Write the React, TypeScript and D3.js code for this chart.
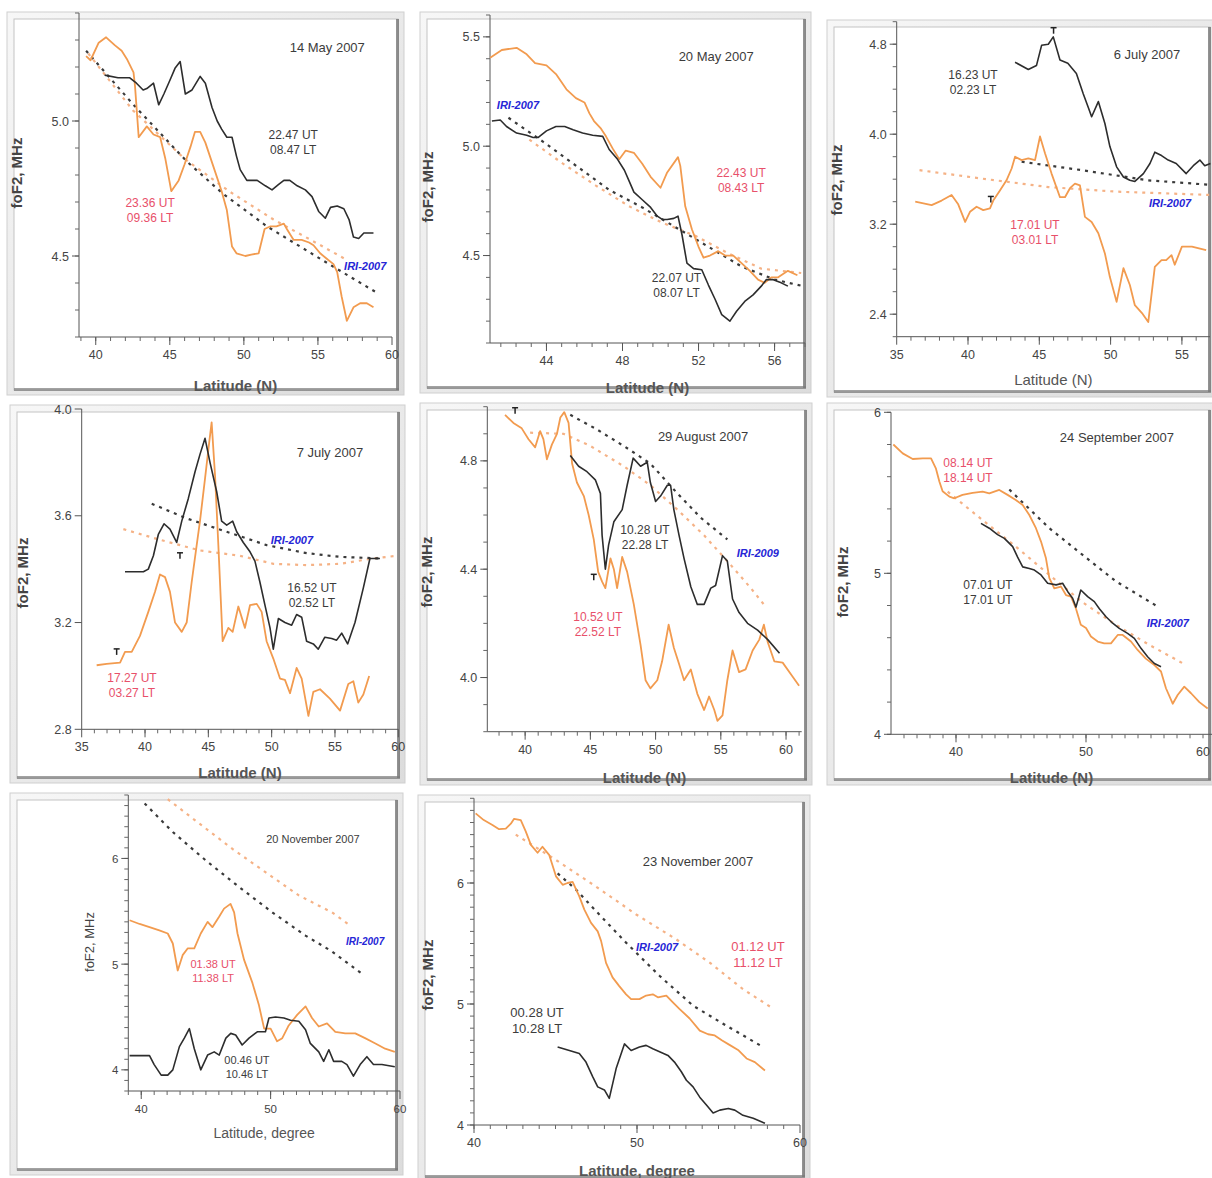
import React from "react";
import * as d3 from "d3";

type Pt = [number, number];

// ---- 14 May 2007 ----
const may14Orange: Pt[] = [[39.35,5.24],[39.65,5.225],[40.2,5.29],[40.7,5.31],[41.3,5.28],[41.75,5.26],[42.1,5.23],[42.55,5.18],[42.65,5.13],[42.9,4.94],[43.45,4.98],[43.9,4.95],[44.35,4.94],[44.7,4.86],[45.1,4.74],[45.6,4.78],[46.0,4.84],[46.4,4.905],[46.7,4.96],[47.05,4.96],[47.4,4.92],[47.95,4.83],[48.5,4.74],[48.85,4.67],[49.2,4.535],[49.5,4.51],[50.1,4.5],[50.5,4.505],[51.0,4.51],[51.4,4.6],[51.8,4.61],[52.2,4.61],[52.7,4.62],[52.9,4.6],[53.35,4.56],[53.9,4.56],[54.4,4.55],[54.7,4.54],[55.15,4.51],[55.7,4.485],[56.05,4.47],[56.3,4.44],[56.6,4.35],[56.95,4.26],[57.4,4.31],[57.85,4.325],[58.3,4.325],[58.75,4.31]];
const may14Black: Pt[] = [[40.6,5.17],[41.5,5.16],[42.3,5.16],[42.75,5.14],[43.2,5.115],[43.45,5.12],[43.9,5.14],[44.25,5.06],[44.6,5.1],[45.0,5.15],[45.35,5.195],[45.7,5.22],[46.05,5.1],[46.5,5.115],[47.05,5.165],[47.4,5.14],[47.85,5.05],[48.2,5.0],[48.5,4.97],[48.85,4.94],[49.2,4.94],[49.5,4.87],[49.75,4.82],[50.2,4.78],[50.9,4.78],[51.45,4.76],[51.9,4.745],[52.35,4.765],[52.7,4.78],[53.1,4.78],[53.6,4.76],[54.15,4.745],[54.6,4.72],[55.05,4.665],[55.5,4.64],[55.85,4.68],[56.3,4.685],[56.75,4.675],[57.1,4.635],[57.4,4.57],[57.75,4.565],[58.1,4.585],[58.75,4.585]];
const may14IriBlack: Pt[] = [[39.35,5.26],[42.55,5.06],[46.15,4.85],[48.6,4.73],[51.55,4.61],[53.8,4.535],[56.05,4.46],[59.1,4.36]];
const may14IriOrange: Pt[] = [[39.5,5.25],[42.5,5.04],[46.0,4.86],[49.0,4.74],[52.0,4.635],[55.0,4.545],[56.8,4.49]];
const may14XTicks = [40, 45, 50, 55, 60];
const may14YTicks = [4.5, 5.0];

// ---- 20 May 2007 ----
const may20Orange: Pt[] = [[41.04,5.405],[41.65,5.44],[42.43,5.45],[42.96,5.42],[43.4,5.38],[44.0,5.37],[44.5,5.33],[45.05,5.26],[45.55,5.22],[46.0,5.2],[46.26,5.15],[46.5,5.115],[46.87,5.08],[47.13,5.045],[47.48,4.99],[47.83,4.94],[48.17,4.98],[48.6,4.97],[49.04,4.92],[49.48,4.86],[50.0,4.81],[50.35,4.88],[50.92,4.95],[51.04,4.91],[51.3,4.725],[51.65,4.62],[52.0,4.54],[52.26,4.49],[52.6,4.5],[53.04,4.52],[53.4,4.5],[53.83,4.5],[54.26,4.465],[54.7,4.43],[55.13,4.39],[55.48,4.375],[55.83,4.4],[56.17,4.4],[56.7,4.43],[57.2,4.41]];
const may20Black: Pt[] = [[41.13,5.115],[41.57,5.12],[41.9,5.09],[42.43,5.06],[42.96,5.05],[43.3,5.04],[43.57,5.04],[44.0,5.07],[44.5,5.09],[44.96,5.09],[45.4,5.075],[45.9,5.06],[46.43,5.05],[46.96,5.045],[47.3,4.985],[47.74,4.94],[48.1,4.89],[48.35,4.84],[48.6,4.79],[49.04,4.755],[49.48,4.72],[49.83,4.68],[50.09,4.665],[50.35,4.665],[50.7,4.67],[50.92,4.68],[51.13,4.595],[51.39,4.465],[51.74,4.44],[52.17,4.435],[52.52,4.365],[52.87,4.3],[53.22,4.23],[53.65,4.2],[54.0,4.245],[54.43,4.29],[54.87,4.32],[55.3,4.36],[55.57,4.39],[55.9,4.39],[56.35,4.375],[56.7,4.36]];
const may20IriBlack: Pt[] = [[42.0,5.13],[43.83,5.02],[45.57,4.91],[47.3,4.8],[49.04,4.72],[50.78,4.63],[52.52,4.54],[54.26,4.45],[56.0,4.39],[57.5,4.36]];
const may20IriOrange: Pt[] = [[43.1,5.03],[44.87,4.92],[46.6,4.82],[48.35,4.725],[50.09,4.65],[51.83,4.59],[53.57,4.51],[55.3,4.44],[57.4,4.42]];
const may20XTicks = [44, 48, 52, 56];
const may20YTicks = [4.5, 5.0, 5.5];

// ---- 6 July 2007 ----
const jul6Black: Pt[] = [[43.3,4.64],[44.23,4.575],[44.8,4.61],[45.16,4.79],[45.63,4.8],[45.98,4.865],[46.45,4.66],[47.0,4.63],[47.6,4.54],[48.08,4.36],[48.43,4.24],[48.67,4.155],[49.14,4.29],[49.6,4.095],[49.95,3.89],[50.42,3.71],[50.9,3.62],[51.35,3.59],[51.7,3.58],[52.3,3.65],[52.76,3.74],[53.1,3.84],[53.57,3.81],[54.04,3.77],[54.6,3.74],[55.3,3.65],[55.8,3.72],[56.26,3.77],[56.6,3.72],[57.0,3.74]];
const jul6Orange: Pt[] = [[36.3,3.4],[37.45,3.37],[38.15,3.41],[38.85,3.46],[39.3,3.38],[39.8,3.22],[40.14,3.31],[40.6,3.355],[41.07,3.325],[41.54,3.34],[41.77,3.41],[42.24,3.5],[42.7,3.59],[43.06,3.695],[43.3,3.8],[43.76,3.77],[44.23,3.785],[44.7,3.77],[45.05,3.98],[45.4,3.83],[45.86,3.65],[46.45,3.44],[46.8,3.44],[47.15,3.52],[47.5,3.56],[47.85,3.545],[48.2,3.265],[48.67,3.22],[49.14,3.12],[49.6,2.94],[49.95,2.73],[50.42,2.51],[50.9,2.81],[51.35,2.66],[51.7,2.48],[52.2,2.41],[52.64,2.33],[53.1,2.82],[53.57,2.88],[53.9,2.88],[54.27,2.925],[54.5,2.84],[55.0,3.0],[55.7,3.0],[56.7,2.97]];
const jul6IriBlack: Pt[] = [[43.76,3.755],[48.0,3.68],[52.64,3.59],[57.0,3.55]];
const jul6IriOrange: Pt[] = [[36.6,3.68],[41.0,3.605],[45.63,3.53],[50.3,3.49],[57.0,3.46]];
const jul6Markers: Pt[] = [[46.0,4.92],[41.6,3.42]];
const jul6XTicks = [35, 40, 45, 50, 55];
const jul6YTicks = [2.4, 3.2, 4.0, 4.8];

// ---- 7 July 2007 ----
const jul7Black: Pt[] = [[38.42,3.39],[39.08,3.39],[39.87,3.39],[40.26,3.4],[40.66,3.45],[41.05,3.53],[41.5,3.57],[41.97,3.55],[42.5,3.5],[42.9,3.58],[43.42,3.665],[43.95,3.765],[44.34,3.83],[44.74,3.89],[45.13,3.8],[45.66,3.69],[46.05,3.58],[46.45,3.565],[46.92,3.58],[47.24,3.54],[47.76,3.5],[48.29,3.465],[48.68,3.43],[49.08,3.35],[49.47,3.265],[49.87,3.18],[50.13,3.1],[50.53,3.215],[51.05,3.2],[51.58,3.19],[51.97,3.23],[52.37,3.22],[52.76,3.13],[53.29,3.12],[53.68,3.1],[54.2,3.145],[54.74,3.14],[55.13,3.134],[55.53,3.16],[56.0,3.12],[56.58,3.2],[57.24,3.33],[57.76,3.44],[58.55,3.44]];
const jul7Orange: Pt[] = [[36.18,3.04],[36.97,3.045],[38.03,3.05],[38.42,3.09],[38.95,3.09],[39.6,3.15],[40.26,3.24],[40.79,3.315],[41.18,3.38],[41.58,3.37],[41.97,3.315],[42.37,3.2],[42.9,3.165],[43.29,3.2],[43.68,3.35],[44.08,3.49],[44.34,3.58],[44.74,3.74],[45.08,3.88],[45.26,3.95],[45.53,3.75],[45.79,3.49],[46.13,3.13],[46.58,3.18],[46.92,3.165],[47.37,3.26],[47.89,3.18],[48.29,3.265],[48.82,3.27],[49.21,3.24],[49.6,3.13],[50.13,3.065],[50.66,2.99],[51.05,2.985],[51.45,2.935],[51.97,3.03],[52.37,2.99],[52.9,2.85],[53.29,2.94],[53.82,2.95],[54.6,2.915],[55.4,2.87],[56.05,2.97],[56.45,2.98],[56.84,2.9],[57.24,2.93],[57.7,3.0]];
const jul7IriBlack: Pt[] = [[40.53,3.645],[43.29,3.59],[46.45,3.54],[49.6,3.49],[52.76,3.46],[55.4,3.446],[58.55,3.44]];
const jul7IriOrange: Pt[] = [[38.29,3.55],[41.18,3.51],[44.34,3.47],[47.5,3.45],[50.13,3.42],[52.76,3.415],[55.4,3.42],[58.0,3.44],[59.87,3.45]];
const jul7Markers: Pt[] = [[42.76,3.45],[37.76,3.09]];
const jul7XTicks = [35, 40, 45, 50, 55, 60];
const jul7YTicks = [2.8, 3.2, 3.6, 4.0];

// ---- 29 August 2007 ----
const aug29Orange: Pt[] = [[38.46,4.97],[39.1,4.94],[39.74,4.92],[40.26,4.88],[40.77,4.85],[41.15,4.91],[41.4,4.88],[41.67,4.806],[42.05,4.86],[42.44,4.9],[42.7,4.96],[43.0,4.98],[43.33,4.94],[43.6,4.79],[43.97,4.72],[44.5,4.67],[44.87,4.6],[45.26,4.51],[45.6,4.39],[45.9,4.354],[46.15,4.33],[46.54,4.44],[46.8,4.4],[47.05,4.33],[47.44,4.445],[47.82,4.39],[48.33,4.27],[48.85,4.12],[49.23,3.99],[49.6,3.96],[50.13,3.99],[50.5,4.06],[51.0,4.195],[51.4,4.11],[51.8,4.05],[52.18,3.99],[52.7,4.03],[53.2,3.94],[53.72,3.88],[54.1,3.93],[54.5,3.88],[54.74,3.84],[55.13,3.86],[55.5,3.99],[55.9,4.1],[56.4,4.02],[56.9,4.03],[57.44,4.1],[57.95,4.14],[58.3,4.195],[58.6,4.13],[59.1,4.06],[59.74,4.055],[60.4,4.01],[61.0,3.97]];
const aug29Black: Pt[] = [[43.46,4.82],[44.1,4.78],[44.74,4.76],[45.38,4.73],[45.77,4.68],[45.9,4.525],[46.15,4.4],[46.4,4.49],[46.8,4.575],[47.44,4.62],[47.82,4.71],[48.28,4.81],[48.85,4.78],[49.36,4.795],[49.6,4.72],[50.0,4.65],[50.38,4.67],[50.9,4.71],[51.15,4.71],[51.4,4.62],[51.8,4.525],[52.18,4.44],[52.7,4.335],[53.2,4.27],[53.72,4.27],[54.23,4.33],[54.6,4.34],[55.13,4.45],[55.5,4.43],[55.9,4.29],[56.4,4.24],[57.05,4.2],[57.82,4.175],[58.6,4.14],[59.5,4.09]];
const aug29IriBlack: Pt[] = [[43.46,4.97],[45.5,4.916],[47.56,4.855],[49.6,4.79],[51.67,4.68],[53.46,4.59],[55.5,4.51]];
const aug29IriOrange: Pt[] = [[40.38,4.904],[42.95,4.9],[45.0,4.855],[47.56,4.78],[49.6,4.71],[51.67,4.62],[53.72,4.525],[55.77,4.415],[57.3,4.33],[58.46,4.26]];
const aug29Markers: Pt[] = [[39.23,4.985],[45.26,4.37]];
const aug29XTicks = [40, 45, 50, 55, 60];
const aug29YTicks = [4.0, 4.4, 4.8];

// ---- 24 September 2007 ----
const sep24Orange: Pt[] = [[35.18,5.8],[35.9,5.745],[36.67,5.71],[37.44,5.714],[38.08,5.714],[38.46,5.65],[38.72,5.57],[38.97,5.51],[39.49,5.476],[39.87,5.466],[40.5,5.487],[41.28,5.5],[42.05,5.507],[42.56,5.497],[43.33,5.518],[43.97,5.487],[44.6,5.455],[45.13,5.424],[45.64,5.362],[46.15,5.28],[46.54,5.197],[46.92,5.093],[47.18,4.97],[47.56,4.907],[48.08,4.917],[48.46,4.865],[48.85,4.855],[49.23,4.78],[49.6,4.68],[50.0,4.66],[50.38,4.607],[50.9,4.576],[51.4,4.565],[51.92,4.565],[52.44,4.617],[52.82,4.617],[53.46,4.576],[53.97,4.524],[54.6,4.47],[55.26,4.43],[55.77,4.39],[56.15,4.286],[56.67,4.19],[57.05,4.244],[57.56,4.296],[58.08,4.255],[58.72,4.2],[59.36,4.16]];
const sep24Black: Pt[] = [[41.92,5.31],[42.56,5.28],[43.2,5.24],[43.72,5.217],[44.36,5.166],[44.74,5.1],[45.13,5.04],[45.64,5.03],[46.03,5.02],[46.54,4.99],[47.05,4.938],[47.7,4.928],[48.2,4.938],[48.6,4.886],[48.97,4.845],[49.23,4.79],[49.6,4.896],[50.13,4.855],[50.64,4.824],[51.03,4.78],[51.54,4.73],[52.05,4.69],[52.56,4.658],[53.2,4.627],[53.72,4.596],[54.23,4.534],[54.74,4.482],[55.26,4.44],[55.77,4.42]];
const sep24IriBlack: Pt[] = [[44.1,5.52],[47.18,5.28],[49.74,5.114],[52.3,4.95],[55.38,4.8]];
const sep24IriOrange: Pt[] = [[39.36,5.507],[42.05,5.33],[44.6,5.166],[47.18,4.99],[49.74,4.82],[52.3,4.68],[54.87,4.555],[57.7,4.43]];
const sep24XTicks = [40, 50, 60];
const sep24YTicks = [4, 5, 6];

// ---- 20 November 2007 ----
const nov20Orange: Pt[] = [[39.1,5.415],[39.87,5.38],[40.64,5.35],[41.4,5.32],[42.05,5.29],[42.44,5.195],[42.82,4.94],[43.2,5.085],[43.6,5.15],[44.1,5.15],[44.6,5.29],[45.13,5.4],[45.5,5.35],[46.03,5.45],[46.4,5.525],[46.9,5.57],[47.18,5.49],[47.44,5.29],[47.95,5.04],[48.6,4.82],[49.1,4.61],[49.5,4.39],[50.0,4.39],[50.5,4.27],[50.9,4.3],[51.4,4.42],[52.05,4.52],[52.7,4.6],[53.2,4.49],[53.72,4.41],[54.36,4.44],[55.0,4.36],[55.77,4.345],[56.54,4.345],[57.3,4.3],[58.1,4.25],[58.85,4.2],[59.6,4.17]];
const nov20Black: Pt[] = [[39.1,4.135],[39.87,4.135],[40.64,4.135],[41.0,4.05],[41.54,3.95],[42.05,3.95],[42.44,4.0],[42.95,4.22],[43.33,4.3],[43.72,4.39],[44.1,4.2],[44.6,4.0],[45.13,4.14],[45.64,4.17],[46.03,4.14],[46.54,4.3],[46.92,4.345],[47.3,4.33],[47.8,4.235],[48.33,4.3],[48.97,4.36],[49.6,4.36],[49.87,4.49],[50.38,4.5],[51.03,4.49],[51.54,4.47],[52.18,4.46],[52.7,4.38],[53.07,4.25],[53.72,4.17],[54.1,4.08],[54.5,4.19],[54.87,4.08],[55.5,4.08],[55.9,4.05],[56.4,3.94],[56.92,4.05],[57.44,4.125],[57.95,4.05],[58.6,4.05],[59.6,4.03]];
const nov20IriBlack: Pt[] = [[40.26,6.52],[42.44,6.25],[45.0,5.98],[47.56,5.73],[50.13,5.49],[52.7,5.27],[54.74,5.12],[57.05,4.91]];
const nov20IriOrange: Pt[] = [[42.05,6.56],[44.49,6.33],[47.05,6.09],[49.6,5.87],[52.18,5.65],[54.74,5.49],[56.1,5.37]];
const nov20XTicks = [40, 50, 60];
const nov20YTicks = [4, 5, 6];

// ---- 23 November 2007 ----
const nov23Orange: Pt[] = [[40.1,6.575],[40.6,6.52],[41.13,6.48],[41.54,6.445],[41.95,6.45],[42.26,6.49],[42.46,6.53],[42.87,6.52],[43.18,6.425],[43.49,6.315],[43.9,6.25],[44.2,6.3],[44.62,6.23],[45.03,6.055],[45.44,5.985],[45.74,6.0],[46.05,6.01],[46.46,5.89],[46.77,5.78],[47.18,5.67],[47.59,5.6],[47.8,5.52],[48.1,5.34],[48.5,5.22],[48.9,5.15],[49.33,5.08],[49.64,5.04],[50.15,5.04],[50.56,5.07],[50.97,5.08],[51.28,5.055],[51.8,5.07],[52.2,5.014],[52.6,4.96],[53.23,4.88],[53.85,4.78],[54.36,4.75],[54.77,4.74],[55.2,4.7],[55.7,4.66],[56.2,4.62],[56.72,4.55],[57.23,4.52],[57.85,4.45]];
const nov23Black: Pt[] = [[45.13,4.644],[45.85,4.616],[46.46,4.59],[46.87,4.52],[47.28,4.4],[47.59,4.315],[48.0,4.29],[48.3,4.22],[48.72,4.466],[49.23,4.67],[49.64,4.616],[50.15,4.644],[50.56,4.658],[50.97,4.63],[51.49,4.6],[51.9,4.575],[52.3,4.52],[52.72,4.44],[53.03,4.37],[53.44,4.315],[53.85,4.23],[54.26,4.165],[54.67,4.1],[55.08,4.123],[55.6,4.137],[56.0,4.123],[56.5,4.08],[57.13,4.055],[57.85,4.014]];
const nov23IriBlack: Pt[] = [[45.13,6.08],[46.26,5.945],[47.49,5.767],[49.33,5.507],[51.38,5.233],[53.44,4.986],[55.49,4.82],[57.74,4.644]];
const nov23IriOrange: Pt[] = [[42.56,6.4],[45.03,6.19],[47.49,5.97],[49.95,5.74],[52.41,5.534],[54.46,5.342],[56.5,5.123],[58.26,4.97]];
const nov23XTicks = [40, 50, 60];
const nov23YTicks = [4, 5, 6];

const ORANGE = "#f29b4f";
const ORANGE_DASH = "#f5b286";
const BLACK = "#2d2d2d";
const RED_TEXT = "#e8506a";
const GREY_TEXT = "#3c3c3c";
const BLUE = "#2626d6";
const FONT = "'Liberation Sans', Arial, sans-serif";
const PAGE_W = 1212;

interface Note { lines: string[]; at: Pt; color: string; size?: number; italic?: boolean; bold?: boolean }
interface PanelSpec {
  frame: [number, number, number, number];
  box: { l: number; r: number; t: number; b: number };
  xd: Pt; yd: Pt;
  xTicks: number[]; xMinor: number[];
  yTicks: number[]; yMinor: number[];
  yFmt: string;
  xTitle: string; xTitleBold: boolean; xTitleY: number;
  yTitleX: number; yTitleY: number; yTitleSize: number;
  orange: Pt[]; black: Pt[]; iriOrange: Pt[]; iriBlack: Pt[];
  markers?: Pt[];
  notes: Note[];
  small?: boolean;
}

const panels: PanelSpec[] = [
  {
    frame: [7, 12, 404, 395], box: { l: 79, r: 392, t: 13, b: 337 },
    xd: [38.87, 60], yd: [4.2, 5.4], xTicks: may14XTicks, xMinor: d3.range(39, 60, 1),
    yTicks: may14YTicks, yMinor: d3.range(4.2, 5.401, 0.1), yFmt: ".1f",
    xTitle: "Latitude (N)", xTitleBold: true, xTitleY: 391, yTitleX: 22, yTitleY: 173, yTitleSize: 15,
    orange: may14Orange, black: may14Black, iriOrange: may14IriOrange, iriBlack: may14IriBlack,
    notes: [
      { lines: ["14 May 2007"], at: [55.63, 5.255], color: GREY_TEXT, size: 13 },
      { lines: ["22.47 UT", "08.47 LT"], at: [53.33, 4.933], color: GREY_TEXT },
      { lines: ["23.36 UT", "09.36 LT"], at: [43.67, 4.68], color: RED_TEXT },
      { lines: ["IRI-2007"], at: [58.19, 4.45], color: BLUE, italic: true, bold: true, size: 11 },
    ],
  },
  {
    frame: [420, 12, 811, 393], box: { l: 490, r: 805, t: 15, b: 343 },
    xd: [41.03, 57.6], yd: [4.1, 5.6], xTicks: may20XTicks, xMinor: d3.range(41.6, 57.61, 0.8),
    yTicks: may20YTicks, yMinor: d3.range(4.1, 5.601, 0.1), yFmt: ".1f",
    xTitle: "Latitude (N)", xTitleBold: true, xTitleY: 393, yTitleX: 433, yTitleY: 187, yTitleSize: 15,
    orange: may20Orange, black: may20Black, iriOrange: may20IriOrange, iriBlack: may20IriBlack,
    notes: [
      { lines: ["20 May 2007"], at: [52.93, 5.39], color: GREY_TEXT, size: 13 },
      { lines: ["IRI-2007"], at: [42.5, 5.17], color: BLUE, italic: true, bold: true, size: 11 },
      { lines: ["22.43 UT", "08.43 LT"], at: [54.24, 4.86], color: RED_TEXT },
      { lines: ["22.07 UT", "08.07 LT"], at: [50.84, 4.38], color: GREY_TEXT },
    ],
  },
  {
    frame: [827, 20, 1216, 397], box: { l: 896.7, r: 1210, t: 21.7, b: 336.7 },
    xd: [35, 56.97], yd: [2.2, 5.0], xTicks: jul6XTicks, xMinor: d3.range(36, 57, 1),
    yTicks: jul6YTicks, yMinor: d3.range(2.2, 5.001, 0.2), yFmt: ".1f",
    xTitle: "Latitude (N)", xTitleBold: false, xTitleY: 385, yTitleX: 842, yTitleY: 180, yTitleSize: 15,
    orange: jul6Orange, black: jul6Black, iriOrange: jul6IriOrange, iriBlack: jul6IriBlack, markers: jul6Markers,
    notes: [
      { lines: ["6 July 2007"], at: [52.55, 4.668], color: GREY_TEXT, size: 13 },
      { lines: ["16.23 UT", "02.23 LT"], at: [40.35, 4.49], color: GREY_TEXT },
      { lines: ["17.01 UT", "03.01 LT"], at: [44.7, 3.156], color: RED_TEXT },
      { lines: ["IRI-2007"], at: [54.17, 3.35], color: BLUE, italic: true, bold: true, size: 11 },
    ],
  },
  {
    frame: [10, 405, 405, 783], box: { l: 81.7, r: 398.3, t: 409, b: 729.3 },
    xd: [35, 60], yd: [2.8, 4.0], xTicks: jul7XTicks, xMinor: d3.range(36, 60, 1),
    yTicks: jul7YTicks, yMinor: [], yFmt: ".1f",
    xTitle: "Latitude (N)", xTitleBold: true, xTitleY: 778, yTitleX: 28, yTitleY: 573, yTitleSize: 15,
    orange: jul7Orange, black: jul7Black, iriOrange: jul7IriOrange, iriBlack: jul7IriBlack, markers: jul7Markers,
    notes: [
      { lines: ["7 July 2007"], at: [54.6, 3.82], color: GREY_TEXT, size: 13 },
      { lines: ["IRI-2007"], at: [51.6, 3.494], color: BLUE, italic: true, bold: true, size: 11 },
      { lines: ["16.52 UT", "02.52 LT"], at: [53.18, 3.314], color: GREY_TEXT },
      { lines: ["17.27 UT", "03.27 LT"], at: [38.97, 2.976], color: RED_TEXT },
    ],
  },
  {
    frame: [420, 403, 812, 785], box: { l: 487.3, r: 801.7, t: 406.7, b: 731.7 },
    xd: [37.1, 61.2], yd: [3.8, 5.0], xTicks: aug29XTicks, xMinor: d3.range(38, 61.1, 1),
    yTicks: aug29YTicks, yMinor: d3.range(3.8, 5.001, 0.1), yFmt: ".1f",
    xTitle: "Latitude (N)", xTitleBold: true, xTitleY: 783, yTitleX: 432, yTitleY: 572, yTitleSize: 15,
    orange: aug29Orange, black: aug29Black, iriOrange: aug29IriOrange, iriBlack: aug29IriBlack, markers: aug29Markers,
    notes: [
      { lines: ["29 August 2007"], at: [53.64, 4.873], color: GREY_TEXT, size: 13 },
      { lines: ["10.28 UT", "22.28 LT"], at: [49.19, 4.53], color: GREY_TEXT },
      { lines: ["10.52 UT", "22.52 LT"], at: [45.58, 4.209], color: RED_TEXT },
      { lines: ["IRI-2009"], at: [57.84, 4.445], color: BLUE, italic: true, bold: true, size: 11 },
    ],
  },
  {
    frame: [827, 403, 1216, 785], box: { l: 891, r: 1216, t: 412.3, b: 734.3 },
    xd: [35, 60], yd: [4, 6], xTicks: sep24XTicks, xMinor: d3.range(36, 60, 1),
    yTicks: sep24YTicks, yMinor: d3.range(4, 6.001, 0.2), yFmt: "d",
    xTitle: "Latitude (N)", xTitleBold: true, xTitleY: 783, yTitleX: 848, yTitleY: 582, yTitleSize: 15,
    orange: sep24Orange, black: sep24Black, iriOrange: sep24IriOrange, iriBlack: sep24IriBlack,
    notes: [
      { lines: ["24 September 2007"], at: [52.38, 5.816], color: GREY_TEXT, size: 13 },
      { lines: ["08.14 UT", "18.14 UT"], at: [40.92, 5.66], color: RED_TEXT },
      { lines: ["07.01 UT", "17.01 UT"], at: [42.46, 4.9], color: GREY_TEXT },
      { lines: ["IRI-2007"], at: [56.3, 4.667], color: BLUE, italic: true, bold: true, size: 11 },
    ],
  },
  {
    frame: [10, 793, 403, 1175], box: { l: 128.3, r: 400, t: 795, b: 1091 },
    xd: [39, 60], yd: [3.8, 6.6], xTicks: nov20XTicks, xMinor: d3.range(39, 60, 1),
    yTicks: nov20YTicks, yMinor: d3.range(3.8, 6.601, 0.1), yFmt: "d",
    xTitle: "Latitude, degree", xTitleBold: false, xTitleY: 1138, yTitleX: 94, yTitleY: 942, yTitleSize: 13,
    orange: nov20Orange, black: nov20Black, iriOrange: nov20IriOrange, iriBlack: nov20IriBlack, small: true,
    notes: [
      { lines: ["20 November 2007"], at: [53.27, 6.146], color: GREY_TEXT, size: 11 },
      { lines: ["IRI-2007"], at: [57.3, 5.18], color: BLUE, italic: true, bold: true, size: 10 },
      { lines: ["01.38 UT", "11.38 LT"], at: [45.55, 4.963], color: RED_TEXT, size: 11 },
      { lines: ["00.46 UT", "10.46 LT"], at: [48.17, 4.055], color: GREY_TEXT, size: 11 },
    ],
  },
  {
    frame: [418, 795, 810, 1182], box: { l: 474, r: 800, t: 798.3, b: 1125 },
    xd: [40, 60], yd: [4, 6.7], xTicks: nov23XTicks, xMinor: d3.range(40, 60, 1),
    yTicks: nov23YTicks, yMinor: d3.range(4, 6.701, 0.1), yFmt: "d",
    xTitle: "Latitude, degree", xTitleBold: true, xTitleY: 1176, yTitleX: 433, yTitleY: 975, yTitleSize: 15,
    orange: nov23Orange, black: nov23Black, iriOrange: nov23IriOrange, iriBlack: nov23IriBlack,
    notes: [
      { lines: ["23 November 2007"], at: [53.74, 6.14], color: GREY_TEXT, size: 13 },
      { lines: ["IRI-2007"], at: [51.23, 5.438], color: BLUE, italic: true, bold: true, size: 11 },
      { lines: ["01.12 UT", "11.12 LT"], at: [57.42, 5.438], color: RED_TEXT, size: 13 },
      { lines: ["00.28 UT", "10.28 LT"], at: [43.87, 4.89], color: GREY_TEXT, size: 13 },
    ],
  },
];

const Frame = ({ f, id }: { f: [number, number, number, number]; id: number }) => {
  const [x0, y0, x1, y1] = f;
  return (
    <g>
      <defs>
        <linearGradient id={`fr${id}`} x1="0" y1="0" x2="1" y2="1">
          <stop offset="0" stopColor="#f7f7f7" />
          <stop offset="1" stopColor="#dcdcdc" />
        </linearGradient>
      </defs>
      <rect x={x0} y={y0} width={x1 - x0} height={y1 - y0} fill={`url(#fr${id})`} stroke="#cfcfcf" />
      <rect x={x0 + 7} y={y0 + 7} width={x1 - x0 - 13} height={y1 - y0 - 12} fill="#fff" stroke="#c4c4c4" />
      <rect x={x1 - 8} y={y0 + 7} width={3} height={y1 - y0 - 12} fill="#6e6e6e" opacity={0.75} />
      <rect x={x0 + 7} y={y1 - 7} width={x1 - x0 - 12} height={3} fill="#7a7a7a" opacity={0.7} />
    </g>
  );
};

const Panel = ({ p, id }: { p: PanelSpec; id: number }) => {
  const { l, r, t, b } = p.box;
  const x = d3.scaleLinear().domain(p.xd).range([l, r]);
  const y = d3.scaleLinear().domain(p.yd).range([b, t]);
  const line = d3.line<Pt>().x((d) => x(d[0])).y((d) => y(d[1]));
  const fmt = d3.format(p.yFmt);
  const tickSize = p.small ? 11.5 : 12.5;
  return (
    <g fontFamily={FONT}>
      <Frame f={p.frame} id={id} />
      {/* axes */}
      <line x1={l} x2={l} y1={t} y2={b} stroke="#555" />
      <line x1={l} x2={r} y1={b} y2={b} stroke="#555" />
      {p.xMinor.map((v, i) => (
        <line key={`xm${i}`} x1={x(v)} x2={x(v)} y1={b} y2={b + 4} stroke="#666" />
      ))}
      {p.xTicks.map((v) => {
        // keep the last label on the page when the axis runs past the edge
        const lx = Math.min(x(v), PAGE_W - 9);
        return (
          <g key={`xt${v}`}>
            <line x1={x(v)} x2={x(v)} y1={b} y2={b + 8} stroke="#555" />
            <text x={lx} y={b + 22} textAnchor="middle" fontSize={tickSize} fill="#444">{v}</text>
          </g>
        );
      })}
      {p.yMinor.map((v, i) => (
        <line key={`ym${i}`} x1={l - 4} x2={l} y1={y(v)} y2={y(v)} stroke="#666" />
      ))}
      {p.yTicks.map((v) => (
        <g key={`yt${v}`}>
          <line x1={l - 7} x2={l} y1={y(v)} y2={y(v)} stroke="#555" />
          <text x={l - 10} y={y(v) + 4.5} textAnchor="end" fontSize={tickSize} fill="#444">{fmt(v)}</text>
        </g>
      ))}
      {/* IRI model curves */}
      <path d={line(p.iriOrange) || ""} fill="none" stroke={ORANGE_DASH} strokeWidth={2.2} strokeDasharray="3,5" />
      <path d={line(p.iriBlack) || ""} fill="none" stroke="#3a3a3a" strokeWidth={2.2} strokeDasharray="3,5" />
      {/* measured */}
      <path d={line(p.orange) || ""} fill="none" stroke={ORANGE} strokeWidth={1.8} strokeLinejoin="round" />
      <path d={line(p.black) || ""} fill="none" stroke={BLACK} strokeWidth={1.6} strokeLinejoin="round" />
      {(p.markers || []).map((m, i) => (
        <g key={`mk${i}`} stroke="#222" strokeWidth={1.5}>
          <line x1={x(m[0]) - 3} x2={x(m[0]) + 3} y1={y(m[1]) - 3} y2={y(m[1]) - 3} />
          <line x1={x(m[0])} x2={x(m[0])} y1={y(m[1]) - 3} y2={y(m[1]) + 3} />
        </g>
      ))}
      {p.notes.map((n, i) => {
        const fs = n.size || 12;
        return (
          <text key={`n${i}`} x={x(n.at[0])} y={y(n.at[1])} textAnchor="middle" fontSize={fs} fill={n.color}
            fontStyle={n.italic ? "italic" : "normal"} fontWeight={n.bold ? "bold" : "normal"}>
            {n.lines.map((s, j) => (
              <tspan key={j} x={x(n.at[0])} dy={j === 0 ? 0 : fs + 3}>{s}</tspan>
            ))}
          </text>
        );
      })}
      {/* titles */}
      <text x={(l + Math.min(r, PAGE_W)) / 2} y={p.xTitleY} textAnchor="middle" fontSize={p.small ? 14 : 15}
        fontWeight={p.xTitleBold ? "bold" : "normal"} fill="#555">{p.xTitle}</text>
      <text transform={`translate(${p.yTitleX},${p.yTitleY}) rotate(-90)`} textAnchor="middle"
        fontSize={p.yTitleSize} fontWeight={p.small ? "normal" : "bold"} fill="#444">foF2, MHz</text>
    </g>
  );
};

export default function App() {
  return (
    <svg width={PAGE_W} height={1178} style={{ position: "absolute", left: 0, top: 0, background: "#fff" }}>
      <rect width={PAGE_W} height={1178} fill="#fff" />
      {panels.map((p, i) => (
        <Panel key={i} p={p} id={i} />
      ))}
    </svg>
  );
}
